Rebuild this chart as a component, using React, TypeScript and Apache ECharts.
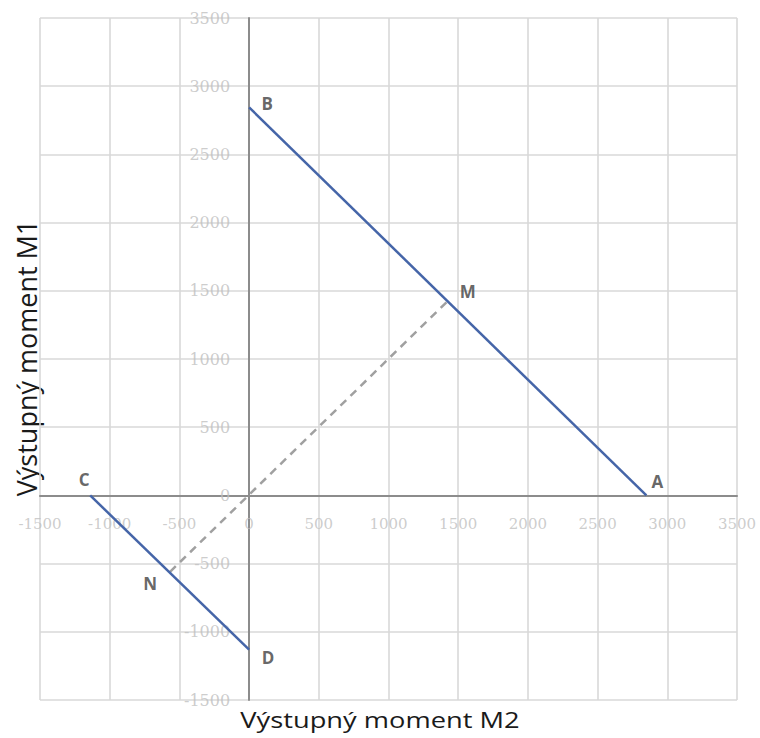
import React, { useEffect, useRef } from "react";
import * as echarts from "echarts";

const xTicks = { min: -1500, max: 3500, interval: 500 };
const yTicks = { min: -1500, max: 3500, interval: 500 };
const xTickValues = [-1500, -1000, -500, 0, 500, 1000, 1500, 2000, 2500, 3000, 3500];
const yTickValues = [-1500, -1000, -500, 0, 500, 1000, 1500, 2000, 2500, 3000, 3500];

const lineAB: [number, number][] = [[2850, 0], [0, 2845]];
const lineCD: [number, number][] = [[-1140, 0], [0, -1130]];
const lineNM: [number, number][] = [[-567, -560], [1425, 1425]];

const pointNames = ["A", "B", "C", "D", "M", "N"];
const pointValues: [number, number][] = [
  [2850, 0], [0, 2845], [-1140, 0], [0, -1130], [1425, 1425], [-567, -560],
];
const labelOffsets: [number, number][] = [
  [11, -14], [18, -4], [-6, -16], [19, 8], [20, -10], [-20, 12],
];

const xTitle = "Výstupný moment M2";
const yTitle = "Výstupný moment M1";

export default function App() {
  const ref = useRef<HTMLDivElement>(null);
  useEffect(() => {
    document.body.style.margin = "0";
    const chart = echarts.init(ref.current!, null, { renderer: "svg" });
    const font = "'Open Sans', 'Noto Sans', sans-serif";
    const tickFont = "'DejaVu Serif', serif";
    const axisCommon = {
      type: "value" as const,
      axisLine: { onZero: true, lineStyle: { color: "#8c8c8c", width: 2 } },
      axisTick: { show: false },
      splitLine: { show: true, lineStyle: { color: "#d9d9d9", width: 1.6 } },
      axisLabel: { show: false },
    };
    chart.setOption({
      animation: false,
      backgroundColor: "#ffffff",
      grid: { left: 40, right: 23, top: 18, bottom: 38, containLabel: false },
      xAxis: { ...axisCommon, ...xTicks },
      yAxis: { ...axisCommon, ...yTicks },
      series: [
        {
          type: "line",
          data: lineAB,
          symbol: "none",
          lineStyle: { color: "#4565a8", width: 2.5 },
        },
        {
          type: "line",
          data: lineCD,
          symbol: "none",
          lineStyle: { color: "#4565a8", width: 2.5 },
        },
        {
          type: "line",
          data: lineNM,
          symbol: "none",
          z: 1,
          lineStyle: { color: "#a0a0a0", width: 2.5, type: [8, 6] },
        },
        {
          type: "scatter",
          symbolSize: 0,
          silent: true,
          data: xTickValues.map((v) => [v, 0]),
          label: {
            show: true,
            position: "inside",
            offset: [0, 29],
            formatter: (p: any) => String(p.value[0]),
            color: "#c0c0c0",
            fontSize: 15,
            fontFamily: tickFont,
          },
        },
        {
          type: "scatter",
          symbolSize: 0,
          silent: true,
          data: yTickValues.map((v) => [0, v]),
          label: {
            show: true,
            position: "left",
            distance: 19,
            formatter: (p: any) => String(p.value[1]),
            color: "#c0c0c0",
            fontSize: 16,
            fontFamily: tickFont,
          },
        },
        {
          type: "scatter",
          symbolSize: 0,
          data: pointValues.map((v, i) => ({
            value: v,
            name: pointNames[i],
            label: { offset: labelOffsets[i] },
          })),
          label: {
            show: true,
            formatter: "{b}",
            position: "inside",
            color: "#404040",
            fontSize: 17,
            fontWeight: "bold",
            fontFamily: font,
          },
        },
      ],
      graphic: [
        {
          type: "text",
          x: 380,
          y: 720,
          scaleX: 1.24,
          style: {
            text: xTitle,
            fontSize: 22,
            fill: "#1a1a1a",
            fontFamily: font,
            align: "center",
            verticalAlign: "middle",
          },
        },
        {
          type: "text",
          x: 26,
          y: 358,
          rotation: Math.PI / 2,
          style: {
            text: yTitle,
            fontSize: 27,
            fill: "#1a1a1a",
            fontFamily: font,
            align: "center",
            verticalAlign: "middle",
          },
        },
      ],
    });
    return () => chart.dispose();
  }, []);
  return <div ref={ref} style={{ width: 760, height: 738 }} />;
}
